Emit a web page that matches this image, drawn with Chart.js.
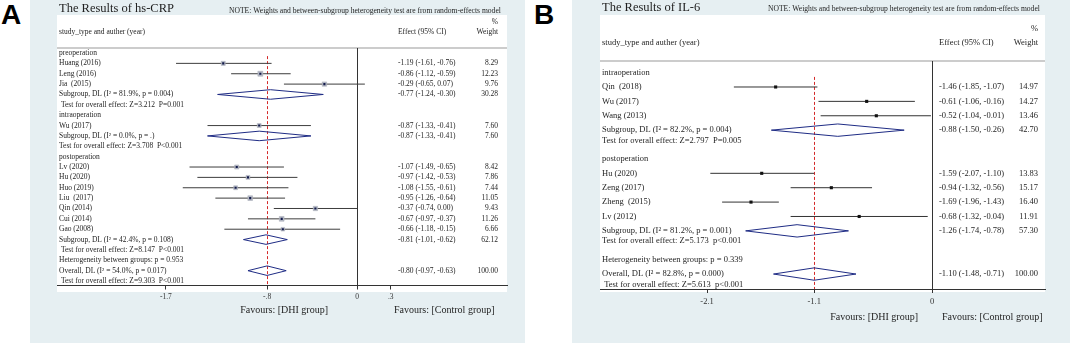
<!DOCTYPE html>
<html>
<head>
<meta charset="utf-8">
<script src="https://cdn.jsdelivr.net/npm/chart.js@4.4.1/dist/chart.umd.min.js"></script>
<style>
  html, body { margin: 0; padding: 0; background: #fff; }
  body { width: 1072px; height: 345px; position: relative; overflow: hidden; }
  .tag { position: absolute; top: 1px; font: bold 28px 'Liberation Sans', Arial, sans-serif; line-height: 28px; color: #000; }
  canvas { position: absolute; top: 0; }
</style>
</head>
<body>
<div class="tag" style="left:1px">A</div>
<div class="tag" style="left:534px">B</div>
<canvas id="chartA" width="495" height="345" style="left:30px"></canvas>
<canvas id="chartB" width="500" height="345" style="left:572px"></canvas>
<script>
// ---- panel A : hs-CRP ----
const titleA = 'The Results of hs-CRP';
const rowsA = [
  'preoperation',
  'Huang (2016)',
  'Leng (2016)',
  'Jia  (2015)',
  'Subgroup, DL (I\u00B2 = 81.9%, p = 0.004)',
  ' Test for overall effect: Z=3.212  P=0.001',
  'intraoperation',
  'Wu (2017)',
  'Subgroup, DL (I\u00B2 = 0.0%, p = .)',
  'Test for overall effect: Z=3.708  P<0.001',
  'postoperation',
  'Lv (2020)',
  'Hu (2020)',
  'Huo (2019)',
  'Liu  (2017)',
  'Qin (2014)',
  'Cui (2014)',
  'Gao (2008)',
  'Subgroup, DL (I\u00B2 = 42.4%, p = 0.108)',
  ' Test for overall effect: Z=8.147  P<0.001',
  'Heterogeneity between groups: p = 0.953',
  'Overall, DL (I\u00B2 = 54.0%, p = 0.017)',
  ' Test for overall effect: Z=9.303  P<0.001'
];
const estA    = [null, -1.19, -0.86, -0.29, -0.77, null, null, -0.87, -0.87, null, null, -1.07, -0.97, -1.08, -0.95, -0.37, -0.67, -0.66, -0.81, null, null, -0.80, null];
const lowA    = [null, -1.61, -1.12, -0.65, -1.24, null, null, -1.33, -1.33, null, null, -1.49, -1.42, -1.55, -1.26, -0.74, -0.97, -1.18, -1.01, null, null, -0.97, null];
const highA   = [null, -0.76, -0.59,  0.07, -0.30, null, null, -0.41, -0.41, null, null, -0.65, -0.53, -0.61, -0.64,  0.00, -0.37, -0.15, -0.62, null, null, -0.63, null];
const weightA = [null, 8.29, 12.23, 9.76, 30.28, null, null, 7.60, 7.60, null, null, 8.42, 7.86, 7.44, 11.05, 9.43, 11.26, 6.66, 62.12, null, null, 100.00, null];
const ticksA = [-1.7, -0.8, 0, 0.3];
const tickLabelsA = ['-1.7', '-.8', '0', '.3'];

// ---- panel B : IL-6 ----
const titleB = 'The Results of IL-6';
const rowsB = [
  'intraoperation',
  'Qin  (2018)',
  'Wu (2017)',
  'Wang (2013)',
  'Subgroup, DL (I\u00B2 = 82.2%, p = 0.004)',
  'Test for overall effect: Z=2.797  P=0.005',
  'postoperation',
  'Hu (2020)',
  'Zeng (2017)',
  'Zheng  (2015)',
  'Lv (2012)',
  'Subgroup, DL (I\u00B2 = 81.2%, p = 0.001)',
  'Test for overall effect: Z=5.173  p<0.001',
  'Heterogeneity between groups: p = 0.339',
  'Overall, DL (I\u00B2 = 82.8%, p = 0.000)',
  ' Test for overall effect: Z=5.613  p<0.001'
];
const estB    = [null, -1.46, -0.61, -0.52, -0.88, null, null, -1.59, -0.94, -1.69, -0.68, -1.26, null, null, -1.10, null];
const lowB    = [null, -1.85, -1.06, -1.04, -1.50, null, null, -2.07, -1.32, -1.96, -1.32, -1.74, null, null, -1.48, null];
const highB   = [null, -1.07, -0.16, -0.01, -0.26, null, null, -1.10, -0.56, -1.43, -0.04, -0.78, null, null, -0.71, null];
const weightB = [null, 14.97, 14.27, 13.46, 42.70, null, null, 13.83, 15.17, 16.40, 11.91, 57.30, null, null, 100.00, null];
const ticksB = [-2.1, -1.1, 0];
const tickLabelsB = ['-2.1', '-1.1', '0'];

const noteText = 'NOTE: Weights and between-subgroup heterogeneity test are from random-effects model';
const favLeft = 'Favours: [DHI group]';
const favRight = 'Favours: [Control group]';

const SERIF = "'Liberation Serif', 'Times New Roman', serif";
const BG = '#e6eff2';
const INK = '#1e1e1e';
const NAVY = '#1f2c85';
const AXIS_H = 20;

// layout / style of each panel (canvas px)
const layoutA = {
  W: 495, H: 345, bg: [0, 0, 495, 343], white: [27, 15, 450, 277],
  area: [27, 48, 477, 285.5], xMin: -2.669, xMax: 1.3345, yMin: -0.483, yMax: 22.43,
  title: [29, 9], titleSize: 12.5, note: [199, 11], noteSize: 7.6,
  font: 7.5, labelX: 29, effX: 368, wtX: 468,
  pct: 22, hdr: 32, tickSize: 7.5, tickPad: 3,
  favSize: 10, favY: 310, favL: 298, favR: 364,
  diamond: 0.46, boxScale: 1.0, dotR: 1.5, dotColor: '#121a4a', ciColor: '#3d3d3d', testShift: 0
};
const layoutB = {
  W: 500, H: 345, bg: [0, 0, 498, 343], white: [28, 15, 445, 277],
  area: [28, 61, 473, 289], xMin: -3.10, xMax: 1.055, yMin: -0.806, yMax: 15.04,
  title: [30, 7.5], titleSize: 12.5, note: [196, 8.5], noteSize: 7.6,
  font: 8.5, labelX: 30, effX: 367, wtX: 466,
  pct: 29, hdr: 43, tickSize: 8.5, tickPad: 4,
  favSize: 10, favY: 317, favL: 346, favR: 370,
  diamond: 0.43, boxScale: 0, dotR: 2.2, dotColor: '#111111', ciColor: '#333333', testShift: -4
};

const isPooled = lab => /^(Subgroup|Overall)/.test(lab);
const f2 = v => v.toFixed(2);

function decor(d, L) {
  return {
    id: 'decor',
    beforeDraw(chart) {
      const ctx = chart.ctx;
      ctx.save();
      ctx.fillStyle = BG;
      ctx.fillRect(...L.bg);
      ctx.fillStyle = '#fff';
      ctx.fillRect(...L.white);
      ctx.fillStyle = INK;
      ctx.textBaseline = 'middle';
      ctx.font = `${L.titleSize}px ${SERIF}`;
      ctx.fillText(d.title, L.title[0], L.title[1]);
      ctx.font = `${L.noteSize}px ${SERIF}`;
      ctx.fillText(noteText, L.note[0], L.note[1]);
      ctx.restore();
    },
    beforeDatasetsDraw(chart) {
      const { ctx, chartArea: a, scales: { x, y } } = chart;
      ctx.save();
      // header rule
      ctx.strokeStyle = '#cccccc';
      ctx.lineWidth = 2;
      ctx.beginPath(); ctx.moveTo(a.left, a.top); ctx.lineTo(a.right, a.top); ctx.stroke();
      // no-effect line
      const x0 = Math.round(x.getPixelForValue(0)) + 0.5;
      ctx.strokeStyle = '#333';
      ctx.lineWidth = 1;
      ctx.beginPath(); ctx.moveTo(x0, a.top); ctx.lineTo(x0, a.bottom); ctx.stroke();
      // overall estimate, dashed
      const oi = d.rows.findIndex(r => r.startsWith('Overall'));
      const first = d.est.findIndex(v => v !== null);
      const xo = Math.round(x.getPixelForValue(d.est[oi])) + 0.5;
      ctx.strokeStyle = '#d42a2a';
      ctx.setLineDash([3, 2]);
      ctx.beginPath(); ctx.moveTo(xo, y.getPixelForValue(first - 0.7)); ctx.lineTo(xo, a.bottom); ctx.stroke();
      ctx.restore();
    },
    afterDraw(chart) {
      const { ctx, scales: { y } } = chart;
      ctx.save();
      ctx.fillStyle = INK;
      ctx.textBaseline = 'middle';
      ctx.font = `${L.font}px ${SERIF}`;
      // column headers
      ctx.textAlign = 'left';
      ctx.fillText('study_type and auther (year)', L.labelX, L.hdr);
      ctx.fillText('Effect (95% CI)', L.effX, L.hdr);
      ctx.textAlign = 'right';
      ctx.fillText('%', L.wtX, L.pct);
      ctx.fillText('Weight', L.wtX, L.hdr);
      // rows
      d.rows.forEach((lab, i) => {
        const py = y.getPixelForValue(i) + (lab.trim().startsWith('Test') ? L.testShift : 0);
        ctx.textAlign = 'left';
        ctx.fillText(lab, L.labelX, py);
        if (d.est[i] !== null) {
          ctx.fillText(`${f2(d.est[i])} (${f2(d.low[i])}, ${f2(d.high[i])})`, L.effX, py);
          ctx.textAlign = 'right';
          ctx.fillText(f2(d.weight[i]), L.wtX, py);
        }
      });
      // favours labels
      ctx.font = `${L.favSize}px ${SERIF}`;
      ctx.textAlign = 'right';
      ctx.fillText(favLeft, L.favL, L.favY);
      ctx.textAlign = 'left';
      ctx.fillText(favRight, L.favR, L.favY);
      ctx.restore();
    }
  };
}

function forestChart(canvasId, d, L) {
  const studies = d.rows.map((_, i) => i).filter(i => d.est[i] !== null && !isPooled(d.rows[i]));
  const datasets = [];
  d.rows.forEach((lab, i) => {
    if (d.est[i] === null) return;
    if (isPooled(lab)) {
      datasets.push({
        data: [
          { x: d.low[i], y: i }, { x: d.est[i], y: i - L.diamond }, { x: d.high[i], y: i },
          { x: d.est[i], y: i + L.diamond }, { x: d.low[i], y: i }
        ],
        showLine: true, borderColor: NAVY, borderWidth: 1, borderJoinStyle: 'miter',
        pointRadius: 0, fill: false, order: 3, clip: false
      });
    } else {
      datasets.push({
        data: [{ x: d.low[i], y: i }, { x: d.high[i], y: i }],
        showLine: true, borderColor: L.ciColor, borderWidth: 1, pointRadius: 0, order: 2
      });
    }
  });
  if (L.boxScale) {
    datasets.push({
      data: studies.map(i => ({ x: d.est[i], y: i })),
      pointStyle: 'rect',
      pointRadius: studies.map(i => L.boxScale * Math.sqrt(d.weight[i])),
      backgroundColor: '#b6bac5', borderColor: '#a3a7b3', borderWidth: 0.5, order: 1
    });
  }
  datasets.push({
    data: studies.map(i => ({ x: d.est[i], y: i })),
    pointStyle: 'rect', pointRadius: L.dotR,
    backgroundColor: L.dotColor, borderWidth: 0, order: 0
  });

  return new Chart(document.getElementById(canvasId), {
    type: 'scatter',
    data: { datasets },
    options: {
      responsive: false,
      animation: false,
      events: [],
      layout: { padding: { left: L.area[0], top: L.area[1], right: L.W - L.area[2], bottom: L.H - L.area[3] - AXIS_H } },
      plugins: { legend: { display: false }, tooltip: { enabled: false } },
      scales: {
        x: {
          type: 'linear', min: L.xMin, max: L.xMax,
          afterBuildTicks: s => { s.ticks = d.ticks.map(v => ({ value: v })); },
          afterFit: s => { s.height = AXIS_H; },
          ticks: {
            callback: (v, i) => d.tickLabels[i], autoSkip: false, maxRotation: 0,
            color: '#333', padding: L.tickPad, font: { family: SERIF, size: L.tickSize }
          },
          grid: { drawOnChartArea: false, drawTicks: true, tickLength: 4, tickColor: '#333' },
          border: { display: true, color: '#333', width: 1 }
        },
        y: { type: 'linear', reverse: true, display: false, min: L.yMin, max: L.yMax }
      }
    },
    plugins: [decor(d, L)]
  });
}

forestChart('chartA', { title: titleA, rows: rowsA, est: estA, low: lowA, high: highA, weight: weightA, ticks: ticksA, tickLabels: tickLabelsA }, layoutA);
forestChart('chartB', { title: titleB, rows: rowsB, est: estB, low: lowB, high: highB, weight: weightB, ticks: ticksB, tickLabels: tickLabelsB }, layoutB);
</script>
</body>
</html>
